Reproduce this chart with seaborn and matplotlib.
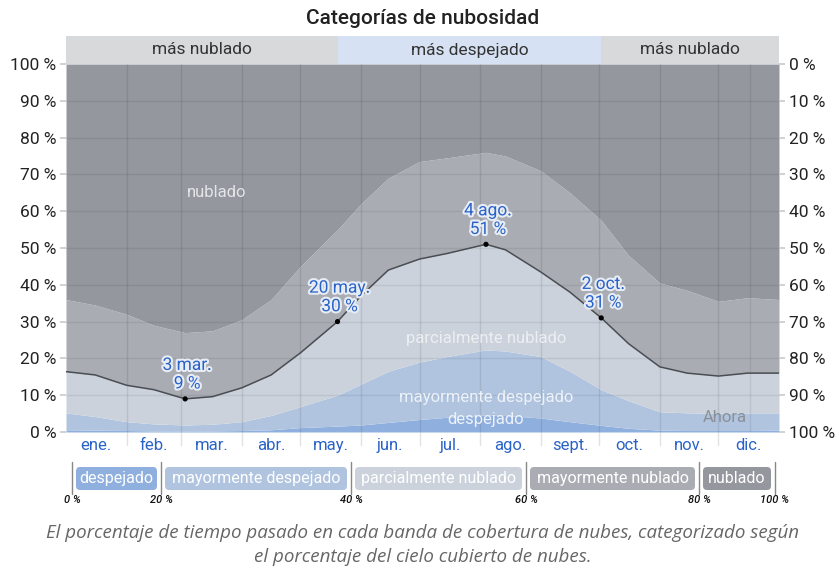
import numpy as np
import pandas as pd
import seaborn as sns
import matplotlib.pyplot as plt
from matplotlib.patches import FancyBboxPatch
import matplotlib.patheffects as pe

# dia del año (0 = 1 ene) y limites acumulados de cada banda (%)
dias = [0, 15, 31, 45, 61, 75, 90, 105, 120, 139, 151, 165, 181,
        195, 215, 225, 243, 258, 274, 288, 304, 318, 334, 349, 365]
despejado = [0.6, 0.5, 0.4, 0.3, 0.3, 0.3, 0.4, 0.6, 1.2, 1.6, 1.9, 2.6, 3.4,
             4.0, 4.6, 4.5, 3.8, 2.8, 1.8, 1.0, 0.5, 0.4, 0.4, 0.4, 0.5]
may_despejado = [5.2, 4.2, 2.8, 2.2, 1.9, 2.1, 2.8, 4.5, 6.9, 10.0, 13.0, 16.5, 19.0,
                 20.5, 22.3, 22.0, 20.5, 16.5, 11.5, 8.5, 5.5, 5.2, 5.1, 5.2, 5.2]
parc_nublado = [16.4, 15.5, 12.7, 11.5, 9.0, 9.6, 12.0, 15.5, 21.5, 30.0, 37.0, 44.0, 47.0,
                48.5, 51.0, 49.5, 43.5, 38.0, 31.0, 24.0, 17.7, 16.0, 15.2, 16.0, 16.0]
may_nublado = [36.0, 34.5, 32.0, 29.0, 27.0, 27.5, 30.5, 36.0, 45.0, 55.0, 62.0, 69.0, 73.5,
               74.5, 76.0, 75.0, 71.0, 65.0, 57.5, 48.0, 40.5, 38.5, 35.5, 36.5, 36.0]

meses = ['ene.', 'feb.', 'mar.', 'abr.', 'may.', 'jun.', 'jul.', 'ago.',
         'sept.', 'oct.', 'nov.', 'dic.']
inicio_mes = [0, 31, 59, 90, 120, 151, 181, 212, 243, 273, 304, 334, 365]

# puntos destacados sobre la linea
marcas_dia = [61, 139, 215, 274]
marcas_val = [9, 30, 51, 31]
marcas_txt = ['3 mar.\n9 %', '20 may.\n30 %', '4 ago.\n51 %', '2 oct.\n31 %']

# franja superior: estacion mas despejada
despejada_ini, despejada_fin = 139, 274
dia_ahora = 350

bandas = ['despejado', 'mayormente despejado', 'parcialmente nublado',
          'mayormente nublado', 'nublado']
colores = ['#8fb0de', '#b0c4df', '#cbd2dc', '#a9adb3', '#94989e']

sns.set_theme(style='white')
plt.rcParams['font.family'] = ['Roboto', 'DejaVu Sans']

W, H = 839, 571
fig = plt.figure(figsize=(W / 100, H / 100), dpi=100)

def caja(x0, y0, x1, y1):
    return [x0 / W, 1 - y1 / H, (x1 - x0) / W, (y1 - y0) / H]

ax = fig.add_axes(caja(66, 64, 779, 432))
df = pd.DataFrame({'dia': dias, 'despejado': despejado, 'may_despejado': may_despejado,
                   'parc_nublado': parc_nublado, 'may_nublado': may_nublado})
df['techo'] = 100.0

capas = [np.zeros(len(dias)), df['despejado'], df['may_despejado'],
         df['parc_nublado'], df['may_nublado'], df['techo']]
for i in range(5):
    ax.fill_between(df['dia'], capas[i], capas[i + 1], color=colores[i], lw=0, zorder=1)

sns.lineplot(data=df, x='dia', y='parc_nublado', ax=ax, color='#4a4d52', lw=1.1, zorder=4)

marcas = pd.DataFrame({'dia': marcas_dia, 'valor': marcas_val})
sns.scatterplot(data=marcas, x='dia', y='valor', ax=ax, color='black', s=14,
                edgecolor='none', zorder=6, legend=False)

ax.set_xlim(0, 365)
ax.set_ylim(0, 100)
ax.set_xlabel('')
ax.set_ylabel('')
for s in ax.spines.values():
    s.set_visible(False)

for d in inicio_mes[1:-1]:
    ax.axvline(d, color='#000000', alpha=0.09, lw=1, zorder=3)
for v in range(10, 100, 10):
    ax.axhline(v, color='#000000', alpha=0.07, lw=1, zorder=3)
ax.axvline(dia_ahora, color='#000000', alpha=0.07, lw=1, zorder=3)

ax.set_yticks(range(0, 101, 10))
ax.set_yticklabels([f'{v} %' for v in range(0, 101, 10)])
centros = [(inicio_mes[i] + inicio_mes[i + 1]) / 2 for i in range(12)]
ax.set_xticks(centros)
ax.set_xticklabels(meses, color='#2a63c8')
ax.tick_params(axis='x', length=0, labelsize=12, pad=4)
ax.tick_params(axis='y', length=4, color='#cccccc', labelsize=12.5, labelcolor='#222222', pad=3, left=True)

for d in inicio_mes[1:-1]:
    ax.plot([d, d], [-3.5, 0], color='#e2e2e2', lw=1, clip_on=False, zorder=0)

ax2 = ax.twinx()
ax2.set_ylim(100, 0)
ax2.set_yticks(range(0, 101, 10))
ax2.set_yticklabels([f'{v} %' for v in range(0, 101, 10)])
ax2.tick_params(axis='y', length=4, color='#cccccc', labelsize=12.5, labelcolor='#222222', pad=3, right=True)
for s in ax2.spines.values():
    s.set_visible(False)
ax2.grid(False)

# etiquetas de las bandas
ax.text(77, 65, 'nublado', color='#e3e5e8', fontsize=12, ha='center', va='center', zorder=5)
ax.text(215, 25.5, 'parcialmente nublado', color='#eceef2', fontsize=12, ha='center', va='center', zorder=5)
ax.text(215, 9.5, 'mayormente despejado', color='#eef2f8', fontsize=12, ha='center', va='center', zorder=5)
ax.text(215, 3.3, 'despejado', color='#eef2f8', fontsize=12, ha='center', va='center', zorder=5)
ax.text(dia_ahora - 1.5, 4.0, 'Ahora', color='#8a8f96', fontsize=12, ha='right', va='center', zorder=5)

halo = [pe.withStroke(linewidth=3, foreground='#e8edf5')]
for d, v, t in zip(marcas_dia, marcas_val, marcas_txt):
    ax.text(d + 1, v + 2.0, t, color='#2a63c8', fontsize=12.5, ha='center', va='bottom',
            linespacing=1.3, path_effects=halo, zorder=7)

# franja superior
axt = fig.add_axes(caja(66, 36, 779, 64))
axt.set_xlim(0, 365)
axt.set_ylim(0, 1)
axt.axvspan(0, despejada_ini, color='#d8d9db', lw=0)
axt.axvspan(despejada_ini, despejada_fin, color='#d6e2f3', lw=0)
axt.axvspan(despejada_fin, 365, color='#d8d9db', lw=0)
axt.text(despejada_ini / 2, 0.5, 'más nublado', ha='center', va='center', fontsize=12.5, color='#333333')
axt.text((despejada_ini + despejada_fin) / 2, 0.5, 'más despejado', ha='center', va='center', fontsize=12.5, color='#333333')
axt.text((despejada_fin + 365) / 2, 0.5, 'más nublado', ha='center', va='center', fontsize=12.5, color='#333333')
axt.axis('off')

fig.text(422.5 / W, 1 - 18 / H, 'Categorías de nubosidad', ha='center', va='center',
         fontsize=15, color='#222222', fontweight='medium')

# leyenda en pixeles
axl = fig.add_axes([0, 0, 1, 1], facecolor='none')
axl.set_xlim(0, W)
axl.set_ylim(H, 0)
axl.axis('off')
cortes_x = [72, 161, 351, 526, 699, 775]
cortes_txt = ['0 %', '20 %', '40 %', '60 %', '80 %', '100 %']
for i in range(5):
    x0, x1 = cortes_x[i] + 4, cortes_x[i + 1] - 4
    axl.add_patch(FancyBboxPatch((x0, 467), x1 - x0, 23,
                                 boxstyle='round,pad=0,rounding_size=4',
                                 fc=colores[i], ec='none'))
    axl.text((x0 + x1) / 2, 478.5, bandas[i], ha='center', va='center',
             fontsize=11.5, color='white')
for x, t in zip(cortes_x, cortes_txt):
    axl.plot([x, x], [462, 494], color='#888888', lw=1)
    axl.text(x, 500, t, ha='center', va='center', fontsize=8, style='italic',
             fontweight='medium', color='#111111')

fig.text(422.5 / W, 1 - 545 / H,
         'El porcentaje de tiempo pasado en cada banda de cobertura de nubes, categorizado según\n'
         'el porcentaje del cielo cubierto de nubes.',
         ha='center', va='center', fontsize=13.5, style='italic', color='#666666',
         family=['Open Sans', 'DejaVu Sans'], linespacing=1.45)

fig.savefig('out.png', dpi=100, facecolor='white')
